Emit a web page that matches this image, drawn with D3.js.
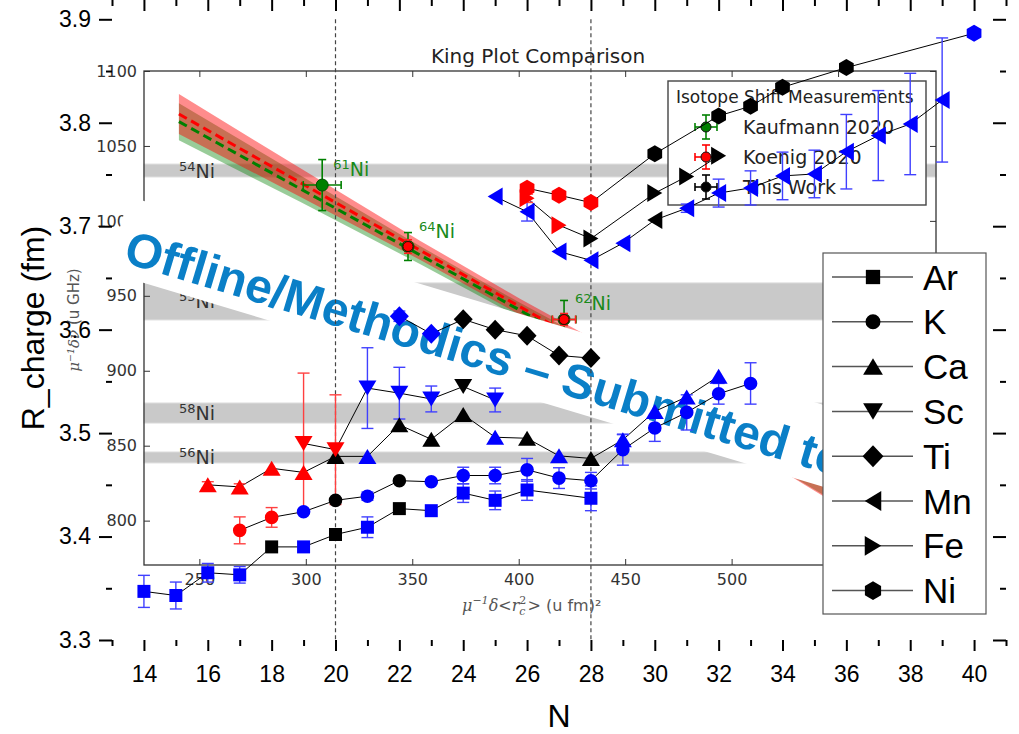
<!DOCTYPE html>
<html>
<head>
<meta charset="utf-8">
<script src="https://cdn.jsdelivr.net/npm/d3@7"></script>
<style>
  body { margin: 0; background: #fff; }
  svg { display: block; }
</style>
</head>
<body>
<div id="chart"></div>
<script>
// ---------- main chart: R_charge (fm) vs N ----------
// marker colour codes: k = black, r = red, b = blue
var arN = [14, 15, 16, 17, 18, 19, 20, 21, 22, 23, 24, 25, 26, 28];
var arR = [3.347, 3.343, 3.365, 3.363, 3.390, 3.390, 3.402, 3.409, 3.427, 3.425, 3.442, 3.435, 3.445, 3.437];
var arErr = [0.0155, 0.013, 0.009, 0.008, 0, 0, 0, 0.010, 0, 0, 0.009, 0.009, 0.010, 0.012];
var arSrc = ["b","b","b","b","k","b","k","b","k","b","b","b","b","b"];

var kN = [17, 18, 19, 20, 21, 22, 23, 24, 25, 26, 27, 28, 29, 30, 31, 32, 33];
var kR = [3.406, 3.4185, 3.424, 3.435, 3.439, 3.454, 3.453, 3.459, 3.459, 3.4645, 3.4565, 3.454, 3.484, 3.505, 3.520, 3.538, 3.548];
var kErr = [0.013, 0.0095, 0, 0, 0.004, 0, 0, 0.008, 0.008, 0.011, 0.010, 0.008, 0.015, 0.013, 0.017, 0.010, 0.020];
var kSrc = ["r","r","b","k","b","k","b","b","b","b","b","b","b","b","b","b","b"];

var caN = [16, 17, 18, 19, 20, 21, 22, 23, 24, 25, 26, 27, 28, 29, 30, 31, 32];
var caR = [3.450, 3.448, 3.466, 3.462, 3.4775, 3.4775, 3.508, 3.494, 3.518, 3.496, 3.495, 3.478, 3.4755, 3.4935, 3.521, 3.535, 3.555];
var caErr = [0.003, 0.003, 0, 0, 0, 0, 0, 0, 0, 0, 0, 0, 0, 0.005, 0, 0, 0];
var caSrc = ["r","r","r","r","k","b","k","k","k","b","k","b","k","b","b","b","b"];

var scN = [19, 20, 21, 22, 23, 24, 25];
var scR = [3.490, 3.484, 3.5435, 3.5386, 3.533, 3.545, 3.532];
var scErr = [0.068, 0.053, 0.039, 0.025, 0.0125, 0, 0.0115];
var scSrc = ["r","r","b","b","b","k","b"];

var tiN = [22, 23, 24, 25, 26, 27, 28];
var tiR = [3.613, 3.596, 3.610, 3.600, 3.594, 3.575, 3.5725];
var tiErr = [0.005, 0, 0, 0, 0, 0, 0];
var tiSrc = ["b","b","k","k","k","k","k"];

var mnN = [25, 26, 27, 28, 29, 30, 31, 32, 33, 34, 35, 36, 37, 38, 39];
var mnR = [3.7286, 3.714, 3.6755, 3.667, 3.6836, 3.706, 3.7174, 3.732, 3.737, 3.7486, 3.7505, 3.772, 3.7876, 3.7988, 3.822];
var mnErr = [0, 0.009, 0, 0, 0, 0, 0.004, 0.0135, 0.0165, 0.023, 0.023, 0.036, 0.0435, 0.049, 0.060];
var mnSrc = ["b","b","b","b","b","k","b","b","b","b","b","b","b","b","b"];

var feN = [26, 27, 28, 30, 31, 32];
var feR = [3.727, 3.701, 3.688, 3.732, 3.748, 3.768];
var feErr = [0.004, 0, 0, 0, 0, 0];
var feSrc = ["r","r","k","k","k","k"];

var niN = [26, 27, 28, 30, 32, 33, 34, 36, 40];
var niR = [3.7367, 3.730, 3.7228, 3.770, 3.8066, 3.816, 3.8343, 3.8533, 3.8865];
var niErr = [0, 0, 0, 0, 0, 0, 0, 0, 0];
var niSrc = ["r","r","r","k","k","k","k","k","b"];

var mainXTicks = [14, 16, 18, 20, 22, 24, 26, 28, 30, 32, 34, 36, 38, 40];
var mainYTicks = [3.3, 3.4, 3.5, 3.6, 3.7, 3.8, 3.9];
var shellLines = [20, 28];

// ---------- King plot inset ----------
var isoBandNames = ["54", "55", "58", "56"];
var isoBandLo = [1029.3, 933.9, 865.1, 838.5];
var isoBandHi = [1037.9, 958.6, 878.5, 845.8];

var kaufIso = ["61", "64", "62"];
var kaufX = [307.7, 348.0, 421.3];
var kaufY = [1023.9, 982.9, 934.2];
var kaufXErr = [8.9, 1.4, 5.6];
var kaufYErr = [17, 9.3, 12.7];
var koenX = [348.0, 421.3];
var koenY = [982.9, 934.2];
var koenXErr = [1.5, 5.4];
var koenYErr = [4.5, 4];

// fit bands, edges
var fitX = [240.4, 297.3, 353.6, 400.6, 447.6, 494.5, 546.2];
var redHi = [1084.7, 1035.2, 986.8, 948.1, 911.4, 876.3, 838.2];
var redLo = [1058.0, 1016.1, 974.0, 937.4, 898.6, 858.4, 813.6];
var greenHi = [1078.5, 1030.4, 983.2, 945.3, 909.4, 874.9, 837.3];
var greenLo = [1053.8, 1012.7, 971.2, 935.3, 897.4, 858.2, 814.6];
var fitLineX = [240.4, 546.2];
var redFit = [1071.3, 825.9];
var greenFit = [1066.2, 826.0];

var kingXTicks = [250, 300, 350, 400, 450, 500, 550];
var kingYTicks = [800, 850, 900, 950, 1000, 1050, 1100];
var kingLegend = ["Kaufmann 2020", "Koenig 2020", "This Work"];
var kingLegendCol = ["green", "red", "black"];

var watermark = "Offline/Methodics – Submitted to";

// ---------- setup ----------
var colors = {k: "#000000", r: "#ff0000", b: "#0000ff"};
var errColors = {k: "#333333", r: "#ff4040", b: "#4040ff"};
var sansFont = "'Liberation Sans', Arial, sans-serif";
var djFont = "'DejaVu Sans', sans-serif";

var svg = d3.select("#chart").append("svg")
    .attr("width", 1019)
    .attr("height", 734)
    .style("font-family", sansFont);

var x = d3.scaleLinear().domain([13, 41]).range([112, 1006]);
var y = d3.scaleLinear().domain([3.3, 3.9]).range([640, 19.3]);

var kx = d3.scaleLinear().domain([224, 596]).range([144, 936]);
var ky = d3.scaleLinear().domain([770.4, 1100]).range([565, 71]);

// isotope label: superscript mass number + "Ni"
function isoLabel(sel, mass) {
  sel.append("tspan").style("font-size", "13px").attr("dy", -7).text(mass);
  sel.append("tspan").attr("dy", 7).text("Ni");
}

// ================= inset (behind everything) =================
var inset = svg.append("g").style("font-family", djFont);

inset.append("text")
    .attr("x", 538).attr("y", 63)
    .attr("text-anchor", "middle")
    .style("font-size", "20px")
    .attr("fill", "#222")
    .text("King Plot Comparison");

// isotope reference bands
inset.selectAll("rect.iso")
    .data(isoBandNames)
  .enter().append("rect")
    .attr("class", "iso")
    .attr("x", kx.range()[0])
    .attr("width", kx.range()[1] - kx.range()[0])
    .attr("y", function(d, i) { return ky(isoBandHi[i]); })
    .attr("height", function(d, i) { return ky(isoBandLo[i]) - ky(isoBandHi[i]); })
    .attr("fill", "#c9c9c9")
    .attr("stroke", "#dddddd")
    .attr("stroke-width", 1);

isoBandNames.forEach(function(m, i) {
  var t = inset.append("text")
      .attr("x", kx.range()[0] + 35)
      .attr("y", (ky(isoBandHi[i]) + ky(isoBandLo[i])) / 2 + 7)
      .style("font-size", "19px")
      .attr("fill", "#333");
  isoLabel(t, m);
});

// fit bands
function bandArea(lo, hi) {
  return d3.area()
      .x(function(d, i) { return kx(fitX[i]); })
      .y0(function(d, i) { return ky(lo[i]); })
      .y1(function(d, i) { return ky(hi[i]); });
}
inset.append("path").datum(fitX)
    .attr("d", bandArea(greenLo, greenHi))
    .attr("fill", "#008000").attr("fill-opacity", 0.4);
inset.append("path").datum(fitX)
    .attr("d", bandArea(redLo, redHi))
    .attr("fill", "#ff0000").attr("fill-opacity", 0.45);

function fitLine(vals) {
  return d3.line()
      .x(function(d, i) { return kx(fitLineX[i]); })
      .y(function(d, i) { return ky(vals[i]); });
}
inset.append("path").datum(fitLineX)
    .attr("d", fitLine(greenFit))
    .attr("fill", "none").attr("stroke", "#008000")
    .attr("stroke-width", 3).attr("stroke-dasharray", "9,5");
inset.append("path").datum(fitLineX)
    .attr("d", fitLine(redFit))
    .attr("fill", "none").attr("stroke", "#ff0000")
    .attr("stroke-width", 3).attr("stroke-dasharray", "9,5");

// error cross helper
function errCross(g, cx, cy, ex, ey, col) {
  var e = g.append("g").attr("stroke", col).attr("stroke-width", 1.6).attr("fill", "none");
  if (ey > 0) {
    e.append("line").attr("x1", cx).attr("x2", cx).attr("y1", cy - ey).attr("y2", cy + ey);
    e.append("line").attr("x1", cx - 4).attr("x2", cx + 4).attr("y1", cy - ey).attr("y2", cy - ey);
    e.append("line").attr("x1", cx - 4).attr("x2", cx + 4).attr("y1", cy + ey).attr("y2", cy + ey);
  }
  if (ex > 0) {
    e.append("line").attr("x1", cx - ex).attr("x2", cx + ex).attr("y1", cy).attr("y2", cy);
    e.append("line").attr("x1", cx - ex).attr("x2", cx - ex).attr("y1", cy - 4).attr("y2", cy + 4);
    e.append("line").attr("x1", cx + ex).attr("x2", cx + ex).attr("y1", cy - 4).attr("y2", cy + 4);
  }
}

// Kaufmann points (green)
kaufX.forEach(function(v, i) {
  var cx = kx(v), cy = ky(kaufY[i]);
  errCross(inset, cx, cy, kx(v + kaufXErr[i]) - cx, cy - ky(kaufY[i] + kaufYErr[i]), "#008000");
  inset.append("circle").attr("cx", cx).attr("cy", cy).attr("r", 6)
      .attr("fill", "#008000").attr("stroke", "#005000");
  var t = inset.append("text")
      .attr("x", cx + 11).attr("y", cy - 9)
      .style("font-size", "19px")
      .attr("fill", "#1a8a1a");
  isoLabel(t, kaufIso[i]);
});
// Koenig points (red)
koenX.forEach(function(v, i) {
  var cx = kx(v), cy = ky(koenY[i]);
  errCross(inset, cx, cy, kx(v + koenXErr[i]) - cx, cy - ky(koenY[i] + koenYErr[i]), "#ff2020");
  inset.append("circle").attr("cx", cx).attr("cy", cy).attr("r", 5)
      .attr("fill", "#ff0000").attr("stroke", "#330000");
});

// inset axes
var kxAxis = inset.append("g")
    .attr("transform", "translate(0," + ky.range()[0] + ")")
    .call(d3.axisBottom(kx).tickValues(kingXTicks).tickSize(-6).tickPadding(9).tickSizeOuter(0));
var kxTop = inset.append("g")
    .attr("transform", "translate(0," + ky.range()[1] + ")")
    .call(d3.axisTop(kx).tickValues(kingXTicks).tickSize(-6).tickFormat("").tickSizeOuter(0));
var kyAxis = inset.append("g")
    .attr("transform", "translate(" + kx.range()[0] + ",0)")
    .call(d3.axisLeft(ky).tickValues(kingYTicks).tickSize(-6).tickPadding(7)
      .tickFormat(d3.format("d")).tickSizeOuter(0));
var kyRight = inset.append("g")
    .attr("transform", "translate(" + kx.range()[1] + ",0)")
    .call(d3.axisRight(ky).tickValues(kingYTicks).tickSize(-6).tickFormat("").tickSizeOuter(0));
[kxAxis, kxTop, kyAxis, kyRight].forEach(function(a) {
  a.select(".domain").remove();
  a.selectAll("line").attr("stroke", "#333");
  a.selectAll("text").style("font-family", djFont).style("font-size", "16px").attr("fill", "#333");
});

inset.append("rect")
    .attr("x", kx.range()[0]).attr("y", ky.range()[1])
    .attr("width", kx.range()[1] - kx.range()[0])
    .attr("height", ky.range()[0] - ky.range()[1])
    .attr("fill", "none").attr("stroke", "#333").attr("stroke-width", 1.3);

// inset axis labels
var kxl = inset.append("text").attr("x", 462).attr("y", 611).attr("fill", "#555").style("font-size", "16px");
kxl.append("tspan").style("font-family", "'DejaVu Serif', serif").style("font-style", "italic").text("μ");
kxl.append("tspan").attr("dy", -7).style("font-size", "11px").style("font-family", "'DejaVu Serif', serif").style("font-style", "italic").text("−1");
kxl.append("tspan").attr("dy", 7).style("font-family", "'DejaVu Serif', serif").style("font-style", "italic").text("δ<r");
kxl.append("tspan").attr("dy", -7).style("font-size", "11px").style("font-family", "'DejaVu Serif', serif").text("2");
kxl.append("tspan").attr("dy", 11).attr("dx", -7).style("font-size", "11px").style("font-family", "'DejaVu Serif', serif").style("font-style", "italic").text("c");
kxl.append("tspan").attr("dy", -4).attr("dx", 2).style("font-family", "'DejaVu Serif', serif").text(">");
kxl.append("tspan").text("  (u fm)²");

var kyl = inset.append("text")
    .attr("transform", "translate(79,320) rotate(-90)")
    .attr("text-anchor", "middle")
    .attr("fill", "#555")
    .style("font-size", "15px");
kyl.append("tspan").style("font-family", "'DejaVu Serif', serif").style("font-style", "italic").text("μ⁻¹δν");
kyl.append("tspan").text(" (u GHz)");

// inset legend
var kleg = inset.append("g");
kleg.append("rect")
    .attr("x", 668).attr("y", 81).attr("width", 258).attr("height", 124)
    .attr("fill", "#fff").attr("stroke", "#444").attr("stroke-width", 1.4);
kleg.append("text").attr("x", 676).attr("y", 103)
    .style("font-size", "17px").attr("fill", "#222")
    .text("Isotope Shift Measurements");
kingLegend.forEach(function(t, i) {
  var cy = 127 + i * 30;
  errCross(kleg, 706, cy, 11, 12, kingLegendCol[i]);
  kleg.append("circle").attr("cx", 706).attr("cy", cy).attr("r", 5)
      .attr("fill", kingLegendCol[i]).attr("stroke", "#111");
  kleg.append("text").attr("x", 743).attr("y", cy + 7)
      .style("font-size", "19px").attr("fill", "#222").text(t);
});

// ================= watermark =================
var wm = svg.append("g").attr("transform", "translate(122,262) rotate(16.7)");
wm.append("rect")
    .attr("x", -12).attr("y", -64.7)
    .attr("width", 770).attr("height", 78.5)
    .attr("fill", "#fff");
wm.append("text")
    .attr("x", 0).attr("y", 0)
    .style("font-family", sansFont)
    .style("font-weight", "bold")
    .style("font-size", "48px")
    .attr("fill", "#0a7fc7")
    .text(watermark);

// ================= main chart =================
var main = svg.append("g");

main.selectAll("line.shell")
    .data(shellLines)
  .enter().append("line")
    .attr("x1", function(d) { return x(d); })
    .attr("x2", function(d) { return x(d); })
    .attr("y1", y.range()[1]).attr("y2", y.range()[0])
    .attr("stroke", "#444").attr("stroke-width", 1.2)
    .attr("stroke-dasharray", "4,3");

var series = [
  {name: "Ar", shape: "square",  n: arN, r: arR, err: arErr, src: arSrc},
  {name: "K",  shape: "circle",  n: kN,  r: kR,  err: kErr,  src: kSrc},
  {name: "Ca", shape: "up",      n: caN, r: caR, err: caErr, src: caSrc},
  {name: "Sc", shape: "down",    n: scN, r: scR, err: scErr, src: scSrc},
  {name: "Ti", shape: "diamond", n: tiN, r: tiR, err: tiErr, src: tiSrc},
  {name: "Mn", shape: "left",    n: mnN, r: mnR, err: mnErr, src: mnSrc},
  {name: "Fe", shape: "right",   n: feN, r: feR, err: feErr, src: feSrc},
  {name: "Ni", shape: "hexagon", n: niN, r: niR, err: niErr, src: niSrc}
];

var shapes = {
  square: "M-6.5,-6.5h13v13h-13Z",
  circle: "M6.8,0A6.8,6.8 0 1,1 -6.8,0A6.8,6.8 0 1,1 6.8,0Z",
  up: "M0,-7.5L9,7.5L-9,7.5Z",
  down: "M0,7.5L9,-7.5L-9,-7.5Z",
  left: "M-7.5,0L7.5,-9L7.5,9Z",
  right: "M7.5,0L-7.5,-9L-7.5,9Z",
  diamond: "M0,-10L9.5,0L0,10L-9.5,0Z",
  hexagon: "M0,-8.5L7.36,-4.25L7.36,4.25L0,8.5L-7.36,4.25L-7.36,-4.25Z"
};

var line = d3.line()
    .x(function(d) { return x(d[0]); })
    .y(function(d) { return y(d[1]); });

series.forEach(function(s) {
  main.append("path")
      .datum(s.n.map(function(n, i) { return [n, s.r[i]]; }))
      .attr("d", line)
      .attr("fill", "none")
      .attr("stroke", "#000")
      .attr("stroke-width", 1);
});

var points = [];
series.forEach(function(s) {
  s.n.forEach(function(n, i) {
    points.push({shape: s.shape, n: n, r: s.r[i], err: s.err[i], src: s.src[i]});
  });
});

// error bars
var eb = main.selectAll("g.err")
    .data(points.filter(function(d) { return d.err > 0; }))
  .enter().append("g")
    .attr("class", "err")
    .attr("stroke", function(d) { return errColors[d.src]; })
    .attr("stroke-width", 1.4);
eb.append("line")
    .attr("x1", function(d) { return x(d.n); }).attr("x2", function(d) { return x(d.n); })
    .attr("y1", function(d) { return y(d.r + d.err); }).attr("y2", function(d) { return y(d.r - d.err); });
eb.append("line")
    .attr("x1", function(d) { return x(d.n) - 6; }).attr("x2", function(d) { return x(d.n) + 6; })
    .attr("y1", function(d) { return y(d.r + d.err); }).attr("y2", function(d) { return y(d.r + d.err); });
eb.append("line")
    .attr("x1", function(d) { return x(d.n) - 6; }).attr("x2", function(d) { return x(d.n) + 6; })
    .attr("y1", function(d) { return y(d.r - d.err); }).attr("y2", function(d) { return y(d.r - d.err); });

// markers
main.selectAll("path.pt")
    .data(points)
  .enter().append("path")
    .attr("class", "pt")
    .attr("d", function(d) { return shapes[d.shape]; })
    .attr("transform", function(d) { return "translate(" + x(d.n) + "," + y(d.r) + ")"; })
    .attr("fill", function(d) { return colors[d.src]; });

// axes
var xMinor = d3.range(13, 42, 2);
var yMinor = [3.35, 3.45, 3.55, 3.65, 3.75, 3.85];

function styleAxis(a) {
  a.select(".domain").remove();
  a.selectAll("line").attr("stroke", "#000").attr("stroke-width", 2);
  a.selectAll("text").style("font-family", sansFont).style("font-size", "23px").attr("fill", "#000");
}
var bottom = y.range()[0], top = y.range()[1], left = x.range()[0], right = x.range()[1];

styleAxis(main.append("g").attr("transform", "translate(0," + bottom + ")")
    .call(d3.axisBottom(x).tickValues(mainXTicks).tickSize(11).tickPadding(15).tickSizeOuter(0)));
styleAxis(main.append("g").attr("transform", "translate(0," + bottom + ")")
    .call(d3.axisBottom(x).tickValues(xMinor).tickSize(6).tickFormat("").tickSizeOuter(0)));
styleAxis(main.append("g").attr("transform", "translate(0," + top + ")")
    .call(d3.axisTop(x).tickValues(mainXTicks).tickSize(-11).tickFormat("").tickSizeOuter(0)));
styleAxis(main.append("g").attr("transform", "translate(0," + top + ")")
    .call(d3.axisTop(x).tickValues(xMinor).tickSize(-6).tickFormat("").tickSizeOuter(0)));
styleAxis(main.append("g").attr("transform", "translate(" + left + ",0)")
    .call(d3.axisLeft(y).tickValues(mainYTicks).tickSize(13).tickPadding(8).tickFormat(d3.format(".1f")).tickSizeOuter(0)));
styleAxis(main.append("g").attr("transform", "translate(" + left + ",0)")
    .call(d3.axisLeft(y).tickValues(yMinor).tickSize(6).tickFormat("").tickSizeOuter(0)));
styleAxis(main.append("g").attr("transform", "translate(" + right + ",0)")
    .call(d3.axisRight(y).tickValues(mainYTicks).tickSize(-13).tickFormat("").tickSizeOuter(0)));
styleAxis(main.append("g").attr("transform", "translate(" + right + ",0)")
    .call(d3.axisRight(y).tickValues(yMinor).tickSize(-6).tickFormat("").tickSizeOuter(0)));

main.append("rect")
    .attr("x", left).attr("y", top)
    .attr("width", right - left).attr("height", bottom - top)
    .attr("fill", "none").attr("stroke", "#000").attr("stroke-width", 2.5);

main.append("text")
    .attr("x", (left + right) / 2).attr("y", 727)
    .attr("text-anchor", "middle")
    .style("font-size", "32px")
    .text("N");
main.append("text")
    .attr("transform", "translate(44,328) rotate(-90)")
    .attr("text-anchor", "middle")
    .style("font-size", "32px")
    .text("R_charge (fm)");

// legend
var leg = main.append("g");
leg.append("rect")
    .attr("x", 823).attr("y", 253).attr("width", 163).attr("height", 361)
    .attr("fill", "#fff").attr("stroke", "#555").attr("stroke-width", 1.2);
series.forEach(function(s, i) {
  var cy = 277 + i * 44.8;
  leg.append("line")
      .attr("x1", 832).attr("x2", 913).attr("y1", cy).attr("y2", cy)
      .attr("stroke", "#555").attr("stroke-width", 1.5);
  leg.append("path")
      .attr("d", shapes[s.shape])
      .attr("transform", "translate(873," + cy + ") scale(1.1)")
      .attr("fill", "#000");
  leg.append("text")
      .attr("x", 923).attr("y", cy + 12.5)
      .style("font-size", "35px")
      .text(s.name);
});
</script>
</body>
</html>
